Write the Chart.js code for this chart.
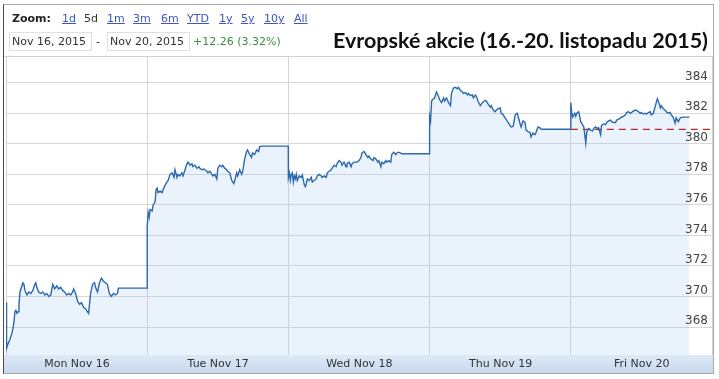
<!DOCTYPE html>
<html><head><meta charset="utf-8">
<script src="https://cdn.jsdelivr.net/npm/chart.js@4.4.1/dist/chart.umd.min.js"></script>
<style>
html,body{margin:0;padding:0;background:#fff;}
#wrap{position:relative;width:719px;height:379px;overflow:hidden;font-family:"DejaVu Sans",Verdana,sans-serif;font-size:11px;color:#333;}
canvas{position:absolute;left:0;top:0;}
#frame{position:absolute;left:3px;top:4px;width:709px;height:368px;border:1px solid #a9a9a9;border-left:1px solid #4a4a4a;z-index:3;pointer-events:none;}
#hdrline{position:absolute;left:4px;top:56px;width:709px;height:1px;background:#d3d3d3;z-index:2;}
.t{position:absolute;white-space:nowrap;line-height:13px;z-index:4;}
.lnk{color:#3b57bd;text-decoration:underline;}
.box{position:absolute;top:32px;height:17px;border:1px solid #e0e0e0;background:#fff;z-index:3;}
#title{position:absolute;left:333px;top:29px;font-family:Lato,"Open Sans",sans-serif;font-weight:bold;font-size:21px;line-height:21px;color:#111;white-space:nowrap;transform-origin:0 0;z-index:4;}
</style></head>
<body>
<div id="wrap">
<canvas id="c" width="719" height="379"></canvas>
<div id="frame"></div>
<div id="hdrline"></div>
<div class="t" style="left:12px;top:12px;font-weight:bold;color:#222;">Zoom:</div>
<div class="t lnk" style="left:62px;top:12px;">1d</div>
<div class="t" style="left:84px;top:12px;color:#333;">5d</div>
<div class="t lnk" style="left:107px;top:12px;">1m</div>
<div class="t lnk" style="left:133px;top:12px;">3m</div>
<div class="t lnk" style="left:161px;top:12px;">6m</div>
<div class="t lnk" style="left:187px;top:12px;">YTD</div>
<div class="t lnk" style="left:219px;top:12px;">1y</div>
<div class="t lnk" style="left:241px;top:12px;">5y</div>
<div class="t lnk" style="left:264px;top:12px;">10y</div>
<div class="t lnk" style="left:294px;top:12px;">All</div>
<div class="box" style="left:9px;width:81px;"></div>
<div class="box" style="left:107px;width:81px;"></div>
<div class="t" style="left:12px;top:35px;color:#333;">Nov 16, 2015</div>
<div class="t" style="left:96px;top:35px;color:#333;">-</div>
<div class="t" style="left:110px;top:35px;color:#333;">Nov 20, 2015</div>
<div class="t" style="left:193px;top:35px;color:#3c8f3c;">+12.26 (3.32%)</div>
<div id="title">Evropské akcie (16.-20. listopadu 2015)</div>
</div>
<script>
// ---- data ----
const dayLabels = ['Mon Nov 16', 'Tue Nov 17', 'Wed Nov 18', 'Thu Nov 19', 'Fri Nov 20'];
const yTicks = [368, 370, 372, 374, 376, 378, 380, 382, 384];
const prevClose = 380.95;

// position within each trading day (0 = day start, 1 = next day start) and index value
const monPos = [0,0.004,0.014,0.028,0.042,0.049,0.056,0.063,0.07,0.077,0.085,0.092,0.099,0.113,0.12,0.127,0.134,0.148,0.162,0.176,0.19,0.204,0.211,0.218,0.232,0.246,0.261,0.275,0.289,0.303,0.317,0.331,0.345,0.359,0.373,0.387,0.401,0.415,0.43,0.444,0.458,0.472,0.479,0.493,0.507,0.521,0.535,0.549,0.563,0.577,0.585,0.599,0.613,0.627,0.634,0.648,0.662,0.676,0.69,0.704,0.718,0.732,0.746,0.761,0.775,0.789,0.796,0.999];
const monVal = [369.6,366.6,366.9,367.2,367.6,367.9,368.3,369.0,369.1,368.9,369.0,369.5,370.3,370.7,370.9,370.8,370.4,370.1,370.3,370.2,370.4,370.8,370.9,370.6,370.3,370.2,370.3,370.1,370.2,370.0,370.1,370.8,370.5,370.7,370.5,370.6,370.4,370.3,370.1,370.2,370.1,370.3,370.5,370.2,369.7,369.5,369.6,369.3,369.2,369.0,368.9,370.2,370.8,370.9,370.6,370.3,370.9,371.2,371.0,370.9,370.8,370.2,370.0,370.2,370.1,370.2,370.55,370.55];

const tuePos = [0,0.007,0.014,0.021,0.035,0.042,0.056,0.063,0.07,0.077,0.092,0.106,0.113,0.127,0.141,0.148,0.162,0.176,0.19,0.197,0.211,0.218,0.232,0.246,0.254,0.268,0.282,0.289,0.303,0.317,0.324,0.338,0.352,0.366,0.373,0.387,0.401,0.423,0.43,0.444,0.458,0.465,0.479,0.493,0.5,0.514,0.528,0.535,0.549,0.563,0.57,0.585,0.599,0.606,0.613,0.62,0.634,0.641,0.655,0.669,0.676,0.69,0.704,0.711,0.725,0.739,0.746,0.761,0.775,0.789,0.796,0.81,0.999];
const tueVal = [374.55,375.5,375.2,375.7,375.6,376.0,376.2,377.0,377.1,376.8,376.9,376.8,377.0,377.3,377.5,377.6,378.0,378.1,377.8,378.3,377.8,378.0,377.9,378.1,377.9,378.3,378.7,378.8,378.6,378.7,378.5,378.6,378.4,378.5,378.4,378.3,378.35,378.2,378.1,378.2,378.0,377.9,378.0,377.7,378.4,378.6,378.5,378.6,378.4,378.3,378.2,378.1,377.6,377.5,377.4,377.6,378.1,377.9,378.3,378.0,378.2,379.0,379.5,379.6,379.3,379.1,379.4,379.3,379.6,379.5,379.8,379.85,379.85];

const wedPos = [0,0.007,0.014,0.021,0.028,0.035,0.042,0.049,0.056,0.063,0.077,0.092,0.099,0.113,0.12,0.127,0.134,0.148,0.162,0.169,0.183,0.197,0.204,0.218,0.232,0.239,0.254,0.268,0.275,0.289,0.303,0.31,0.324,0.338,0.345,0.359,0.373,0.38,0.394,0.408,0.415,0.43,0.444,0.451,0.465,0.486,0.5,0.514,0.521,0.535,0.549,0.563,0.57,0.585,0.599,0.606,0.62,0.634,0.641,0.655,0.662,0.676,0.69,0.697,0.711,0.725,0.732,0.746,0.761,0.768,0.782,0.803,0.999];
const wedVal = [377.8,378.1,377.6,378.0,378.1,377.5,377.9,377.7,378.0,377.6,377.9,377.8,377.95,377.3,377.2,377.4,377.7,377.6,377.8,377.5,377.6,377.7,377.9,378.0,377.9,377.8,377.9,377.8,378.1,378.2,378.3,378.4,378.6,378.5,378.7,378.9,378.8,378.6,378.8,378.5,378.7,378.8,378.5,378.7,378.8,378.8,378.9,379.1,379.4,379.5,379.3,379.1,379.2,379.0,378.9,379.1,379.0,378.8,378.9,378.5,378.8,378.7,378.9,378.8,378.9,378.8,379.3,379.45,379.3,379.4,379.45,379.35,379.35];

const thuPos = [0,0.007,0.014,0.021,0.035,0.049,0.063,0.07,0.085,0.099,0.106,0.12,0.134,0.148,0.155,0.169,0.183,0.197,0.204,0.218,0.232,0.239,0.254,0.268,0.275,0.289,0.303,0.31,0.324,0.331,0.345,0.359,0.366,0.38,0.394,0.401,0.415,0.43,0.437,0.451,0.465,0.472,0.486,0.5,0.507,0.521,0.535,0.542,0.556,0.57,0.577,0.592,0.606,0.62,0.627,0.641,0.648,0.662,0.676,0.683,0.697,0.711,0.718,0.732,0.746,0.754,0.768,0.782,0.789,0.999];
const thuVal = [381.8,381.5,382.8,382.9,383.0,383.4,383.1,382.9,382.7,383.0,382.8,383.0,382.7,382.5,383.3,383.65,383.7,383.6,383.7,383.5,383.4,383.3,383.35,383.2,383.3,383.15,383.2,383.0,383.2,383.1,382.75,382.5,382.6,382.75,382.85,382.8,382.6,382.4,382.5,382.2,382.1,382.2,382.3,382.35,382.0,381.9,381.7,381.6,381.4,381.2,381.1,381.15,381.9,382.0,381.8,381.3,381.1,381.5,381.4,380.9,380.8,380.75,380.45,380.7,380.6,380.75,381.1,381.05,380.95,380.95];

const friPos = [0,0.007,0.014,0.028,0.035,0.042,0.056,0.07,0.077,0.092,0.099,0.106,0.113,0.127,0.141,0.155,0.162,0.176,0.19,0.197,0.211,0.218,0.232,0.246,0.254,0.268,0.282,0.289,0.303,0.317,0.324,0.338,0.352,0.359,0.373,0.387,0.394,0.408,0.423,0.43,0.444,0.458,0.465,0.479,0.493,0.5,0.514,0.528,0.535,0.549,0.563,0.57,0.585,0.599,0.613,0.627,0.634,0.641,0.655,0.669,0.676,0.69,0.704,0.711,0.725,0.739,0.746,0.761,0.775,0.796,0.84];
const friVal = [382.7,382.0,381.75,382.0,381.8,382.0,382.1,381.45,381.35,381.1,380.6,380.05,380.8,381.0,380.9,380.85,381.0,381.1,381.0,381.05,380.6,381.2,381.3,381.25,381.4,381.5,381.55,381.45,381.4,381.4,381.55,381.6,381.7,381.75,381.8,381.9,382.05,382.1,382.0,382.05,382.15,382.2,382.2,382.1,382.0,382.05,381.95,382.0,381.95,382.05,382.1,381.9,382.0,382.5,382.95,382.6,382.35,382.5,382.3,382.2,382.1,382.0,382.05,381.9,381.75,381.35,381.7,381.45,381.7,381.75,381.75];

// ---- build series ----
const sessions = [[monPos, monVal], [tuePos, tueVal], [wedPos, wedVal], [thuPos, thuVal], [friPos, friVal]];
const points = [];
sessions.forEach(([pos, val], d) => {
  const n = Math.min(pos.length, val.length);
  for (let i = 0; i < n; i++) points.push({x: d + pos[i], y: val[i]});
});
const prevLine = [{x: 4, y: prevClose}, {x: dayLabels.length, y: prevClose}];

// title width fit
const title = document.getElementById('title');
const tw = title.getBoundingClientRect().width;
title.style.transform = 'scaleX(' + (375 / tw) + ')';

const axisBar = {
  id: 'axisBar',
  beforeDraw(chart) {
    const {ctx, chartArea: a} = chart;
    const g = ctx.createLinearGradient(0, a.bottom, 0, a.bottom + 18);
    g.addColorStop(0, '#dde9f6');
    g.addColorStop(1, '#c8d9ee');
    ctx.save();
    ctx.fillStyle = g;
    ctx.fillRect(4, a.bottom, 709, 18);
    ctx.restore();
  }
};

Chart.defaults.font.family = '"DejaVu Sans", Verdana, sans-serif';

new Chart(document.getElementById('c'), {
  type: 'line',
  data: {
    datasets: [
      {data: points, borderColor: '#2d69ad', borderWidth: 1.4, backgroundColor: 'rgba(163,199,238,0.23)',
       fill: 'start', pointRadius: 0, tension: 0, order: 0},
      {data: prevLine, borderColor: '#b5282b', borderWidth: 1.2, borderDash: [7, 5],
       fill: false, pointRadius: 0, order: 1}
    ]
  },
  options: {
    responsive: false, animation: false, devicePixelRatio: 1,
    layout: {padding: {left: 6, right: 7, top: 56, bottom: 6}},
    plugins: {legend: {display: false}, tooltip: {enabled: false}, filler: {drawTime: 'beforeDatasetsDraw'}},
    scales: {
      x: {
        type: 'linear', min: 0, max: dayLabels.length,
        afterBuildTicks(s) { s.ticks = dayLabels.map((_, i) => ({value: i})).concat([{value: dayLabels.length}]); },
        afterFit(s) { s.height = 18; s.paddingLeft = 0; s.paddingRight = 0; },
        ticks: {autoSkip: false, maxRotation: 0, minRotation: 0, labelOffset: 71, padding: 3, color: '#333',
                font: {size: 11}, z: 1, callback: (v) => dayLabels[v] || ''},
        grid: {drawTicks: false, color: '#d4d4d4'},
        border: {display: false}
      },
      y: {
        position: 'right', min: 366.17, max: 385.75,
        afterBuildTicks(s) { s.ticks = yTicks.map(v => ({value: v})); },
        afterFit(s) { s.width = 0; s.paddingTop = 0; s.paddingBottom = 0; },
        ticks: {mirror: true, padding: -4, labelOffset: -6, color: '#444', font: {size: 12}, z: 1},
        grid: {drawTicks: false, color: '#d7d7d7'},
        border: {display: false}
      }
    }
  },
  plugins: [axisBar]
});
</script>
</body></html>
